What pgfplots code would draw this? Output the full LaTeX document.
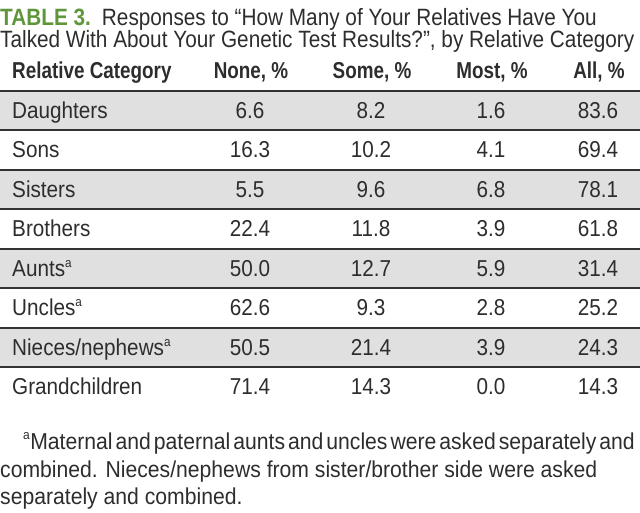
\documentclass[border=0pt]{standalone}
\usepackage{pgfplots}
\pgfplotsset{compat=1.18}
\usepackage{pgfplotstable}
\usepackage{fontspec}
\setmainfont{Liberation Sans}[FakeStretch=0.9, BoldFeatures={FakeStretch=0.82}]
\newfontfamily\titlefont{Liberation Sans}[FakeStretch=0.88, BoldFeatures={FakeStretch=0.88}]
\newfontfamily\notefont{Liberation Sans}[FakeStretch=0.92]
\definecolor{tgreen}{RGB}{96,150,58}
\definecolor{txt}{RGB}{45,45,45}
\definecolor{rowgray}{RGB}{224,224,224}
\definecolor{rulec}{RGB}{50,50,50}

\pgfplotstableread{
row none some most all
0 6.6 8.2 1.6 83.6
1 16.3 10.2 4.1 69.4
2 5.5 9.6 6.8 78.1
3 22.4 11.8 3.9 61.8
4 50.0 12.7 5.9 31.4
5 62.6 9.3 2.8 25.2
6 50.5 21.4 3.9 24.3
7 71.4 14.3 0.0 14.3
}\datatable

\newcommand{\bodyfont}{\fontsize{23}{24}\selectfont}
\newcommand{\titlesize}{\fontsize{23.6}{24}\selectfont}
\newcommand{\sa}{\textsuperscript{\fontsize{13}{13}\selectfont a}}
\begin{document}
\begin{tikzpicture}
\begin{axis}[
  width=640pt, height=513pt, scale only axis,
  xmin=0, xmax=640, ymin=-2.792, ymax=10.195, y dir=reverse,
  hide axis, clip=false,
  nodes near coords align={anchor=base},
  every node near coord/.append style={inner sep=0pt, yshift=-8pt, font=\bodyfont, text=txt},
]
% shaded rows
\pgfplotsinvokeforeach{0,2,4,6}{
  \fill[rowgray] (axis cs:0,#1-0.5) rectangle (axis cs:640,#1+0.5);
}
% rules
\pgfplotsinvokeforeach{0,...,7}{
  \draw[rulec, line width=2pt] (axis cs:0,#1-0.5) -- (axis cs:640,#1-0.5);
}
% category names
\addplot[draw=none, nodes near coords, point meta=explicit symbolic,
  nodes near coords align={anchor=base west}] coordinates {
  (12,0) [Daughters]
  (12,1) [Sons]
  (12,2) [Sisters]
  (12,3) [Brothers]
  (12,4) [Aunts\sa]
  (12,5) [Uncles\sa]
  (12,6) [Nieces/nephews\sa]
  (12,7) [Grandchildren]
};
% values
\addplot[draw=none, nodes near coords, point meta=explicit symbolic] table[x expr=250, y=row, meta=none] {\datatable};
\addplot[draw=none, nodes near coords, point meta=explicit symbolic] table[x expr=371, y=row, meta=some] {\datatable};
\addplot[draw=none, nodes near coords, point meta=explicit symbolic] table[x expr=491, y=row, meta=most] {\datatable};
\addplot[draw=none, nodes near coords, point meta=explicit symbolic] table[x expr=598, y=row, meta=all] {\datatable};
% header
\begin{scope}[every node/.style={inner sep=0pt, font=\bodyfont\bfseries, text=txt}]
\node[anchor=base west] at (axis cs:12,-0.80) {Relative Category};
\node[anchor=base] at (axis cs:251,-0.80) {None, \%};
\node[anchor=base] at (axis cs:372,-0.80) {Some, \%};
\node[anchor=base] at (axis cs:492,-0.80) {Most, \%};
\node[anchor=base] at (axis cs:599,-0.80) {All, \%};
\end{scope}
% title
\node[anchor=base west, inner sep=0pt, font=\titlefont\titlesize, text=txt] at (axis cs:0,-2.159)
  {\textcolor{tgreen}{\bfseries TABLE 3.}\hspace{11pt}Responses to “How Many of Your Relatives Have You};
\node[anchor=base west, inner sep=0pt, font=\titlefont\titlesize, text=txt] at (axis cs:0,-1.577)
  {Talked With About Your Genetic Test Results?”, by Relative Category};
% footnote
\node[anchor=base west, inner sep=0pt, font=\notefont\bodyfont, text=txt] at (axis cs:23,8.575)
  {\spaceskip=0.13em\sa Maternal and paternal aunts and uncles were asked separately and};
\node[anchor=base west, inner sep=0pt, font=\notefont\bodyfont, text=txt] at (axis cs:0,9.284)
  {combined. Nieces/nephews from sister/brother side were asked};
\node[anchor=base west, inner sep=0pt, font=\notefont\bodyfont, text=txt] at (axis cs:0,9.968)
  {separately and combined.};
\end{axis}
\pgfresetboundingbox
\path[use as bounding box] (current axis.south west) rectangle (current axis.north east);
\end{tikzpicture}
\end{document}
